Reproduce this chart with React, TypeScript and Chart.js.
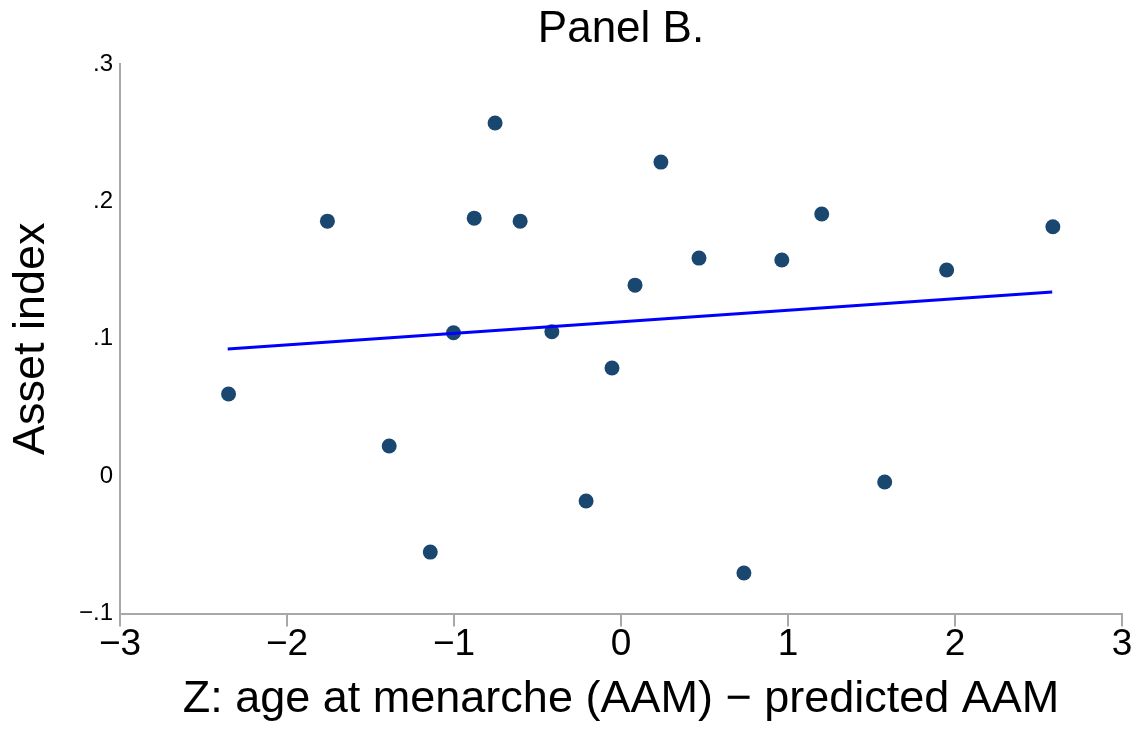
import React, { useEffect, useRef } from "react";
import { Chart, registerables } from "chart.js";

Chart.register(...registerables);

// Scatter points: Z (AAM residual) vs asset index
const zValues = [
  -2.35, -1.758, -1.388, -1.142, -1.003, -0.879, -0.754, -0.604, -0.414, -0.209,
  -0.054, 0.084, 0.239, 0.467, 0.736, 0.963, 1.202, 1.579, 1.95, 2.586,
];
const assetValues = [
  0.0598, 0.1856, 0.0219, -0.0553, 0.1044, 0.1878, 0.257, 0.1856, 0.1051, -0.0181,
  0.0787, 0.139, 0.2286, 0.1587, -0.0705, 0.1573, 0.1908, -0.0043, 0.15, 0.1815,
];

// Fitted line endpoints
const fitX = [-2.355, 2.582];
const fitY = [0.0925, 0.134];

// Ticks
const xTickValues = [-3, -2, -1, 0, 1, 2, 3];
const xTickLabels = ["\u22123", "\u22122", "\u22121", "0", "1", "2", "3"];
const yTickValues = [-0.1, 0, 0.1, 0.2, 0.3];
const yTickLabels = ["\u2212.1", "0", ".1", ".2", ".3"];

const titleText = "Panel B.";
const xTitle = "Z: age at menarche (AAM) \u2212 predicted AAM";
const yTitle = "Asset index";

const FONT = "'Liberation Sans', Arial, Helvetica, sans-serif";
const AXIS_GRAY = "#a8a8a8";

function lookup(values: number[], labels: string[], v: number): string {
  for (let i = 0; i < values.length; i++) {
    if (Math.abs(values[i] - v) < 1e-9) return labels[i];
  }
  return "";
}

export default function App() {
  const canvasRef = useRef<HTMLCanvasElement | null>(null);

  useEffect(() => {
    const canvas = canvasRef.current;
    if (!canvas) return;
    const chart = new Chart(canvas, {
      type: "scatter",
      data: {
        datasets: [
          {
            label: "fit",
            data: fitX.map((x, i) => ({ x, y: fitY[i] })),
            showLine: true,
            borderColor: "#0000ff",
            borderWidth: 3,
            pointRadius: 0,
            pointHoverRadius: 0,
            order: 0,
          },
          {
            label: "points",
            data: zValues.map((x, i) => ({ x, y: assetValues[i] })),
            backgroundColor: "#1a476f",
            borderWidth: 0,
            pointRadius: 7.5,
            pointHoverRadius: 7.5,
            order: 1,
          },
        ],
      },
      options: {
        responsive: false,
        animation: false,
        devicePixelRatio: 1,
        layout: { padding: { left: 0, right: 19, top: 0, bottom: 0 } },
        plugins: {
          legend: { display: false },
          tooltip: { enabled: false },
          title: {
            display: true,
            text: titleText,
            fullSize: false,
            color: "#000",
            font: { family: FONT, size: 44, weight: "normal", lineHeight: 1.2 },
            padding: { top: 3.4, bottom: 7.8 },
          },
        },
        scales: {
          x: {
            type: "linear",
            min: -3,
            max: 3,
            afterFit: (s: any) => {
              s.height = 116.5;
            },
            afterBuildTicks: (s: any) => {
              s.ticks = xTickValues.map((v) => ({ value: v }));
            },
            ticks: {
              color: "#000",
              font: { family: FONT, size: 37, lineHeight: 1 },
              padding: 0,
              maxRotation: 0,
              autoSkip: false,
              callback: (v: any) => lookup(xTickValues, xTickLabels, Number(v)),
            },
            grid: {
              display: true,
              drawOnChartArea: false,
              drawTicks: true,
              tickLength: 13,
              color: AXIS_GRAY,
              lineWidth: 2,
            },
            border: { display: true, color: AXIS_GRAY, width: 2 },
            title: {
              display: true,
              text: xTitle,
              color: "#000",
              font: { family: FONT, size: 45, lineHeight: 1.2 },
              padding: { top: 0, bottom: 3.6 },
            },
          },
          y: {
            type: "linear",
            min: -0.1,
            max: 0.3,
            afterFit: (s: any) => {
              s.width = 120;
            },
            afterBuildTicks: (s: any) => {
              s.ticks = yTickValues.map((v) => ({ value: v }));
            },
            ticks: {
              color: "#000",
              font: { family: FONT, size: 24, lineHeight: 1 },
              padding: 7,
              autoSkip: false,
              callback: (v: any) => lookup(yTickValues, yTickLabels, Number(v)),
            },
            grid: { display: false, drawTicks: false },
            border: { display: true, color: AXIS_GRAY, width: 2 },
            title: {
              display: true,
              text: yTitle,
              color: "#000",
              font: { family: FONT, size: 45, lineHeight: 1.2 },
              padding: { top: 4.1, bottom: 0 },
            },
          },
        },
      },
    });
    return () => chart.destroy();
  }, []);

  return (
    <div style={{ position: "fixed", left: 0, top: 0, width: 1141, height: 730, background: "#fff" }}>
      <canvas ref={canvasRef} width={1141} height={730} style={{ width: 1141, height: 730 }} />
    </div>
  );
}
